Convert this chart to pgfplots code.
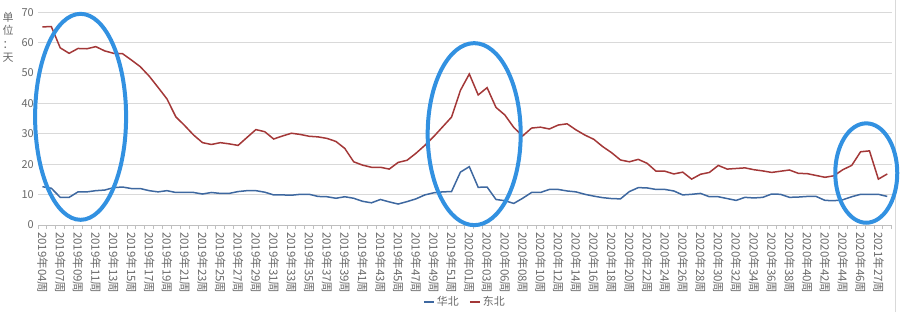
\documentclass[border=0pt]{standalone}
\usepackage{fontspec}
\setmainfont{Noto Sans CJK SC}
\usepackage{pgfplots}
\pgfplotsset{compat=1.18}
\usepackage{pgfplotstable}
\definecolor{hb}{RGB}{62,104,160}
\definecolor{db}{RGB}{163,56,56}
\definecolor{ell}{RGB}{50,145,225}
\definecolor{tk}{RGB}{105,105,105}
\definecolor{grd}{RGB}{217,217,217}
\definecolor{axl}{RGB}{191,191,191}

\pgfplotstableread{
x hb db
0 12.6 65.2
1 12.1 65.3
2 9.1 58.3
3 9.1 56.5
4 10.9 58.1
5 10.9 58.0
6 11.3 58.7
7 11.5 57.3
8 12.3 56.5
9 12.5 56.4
10 12.0 54.3
11 12.0 52.1
12 11.3 49.0
13 10.9 45.3
14 11.3 41.5
15 10.7 35.6
16 10.7 32.7
17 10.7 29.6
18 10.2 27.1
19 10.7 26.5
20 10.4 27.1
21 10.4 26.7
22 11.0 26.2
23 11.3 28.8
24 11.3 31.4
25 10.8 30.7
26 9.9 28.3
27 9.9 29.3
28 9.8 30.2
29 10.1 29.8
30 10.1 29.2
31 9.4 29.0
32 9.3 28.5
33 8.8 27.5
34 9.3 25.2
35 8.8 20.8
36 7.8 19.7
37 7.3 19.0
38 8.4 19.0
39 7.6 18.4
40 6.9 20.6
41 7.7 21.3
42 8.6 23.6
43 9.9 26.2
44 10.6 29.1
45 10.9 32.3
46 11.0 35.5
47 17.4 44.3
48 19.2 49.7
49 12.4 42.8
50 12.5 45.2
51 8.4 38.7
52 8.0 36.2
53 7.1 32.1
54 8.8 29.3
55 10.7 31.9
56 10.7 32.2
57 11.7 31.6
58 11.7 32.9
59 11.2 33.3
60 10.9 31.3
61 10.1 29.6
62 9.5 28.2
63 9.0 25.8
64 8.7 23.8
65 8.6 21.4
66 11.0 20.8
67 12.3 21.6
68 12.2 20.3
69 11.7 17.7
70 11.7 17.7
71 11.2 16.8
72 9.9 17.4
73 10.1 15.1
74 10.4 16.7
75 9.3 17.3
76 9.3 19.6
77 8.7 18.4
78 8.1 18.6
79 9.1 18.8
80 8.9 18.2
81 9.1 17.8
82 10.2 17.3
83 10.1 17.7
84 9.1 18.1
85 9.2 17.0
86 9.4 16.9
87 9.4 16.3
88 8.1 15.7
89 8.0 16.2
90 8.3 18.2
91 9.3 19.6
92 10.1 24.1
93 10.1 24.4
94 10.1 15.1
95 9.4 16.8
}\data

\begin{document}
\begin{tikzpicture}[x=1bp,y=1bp]
\useasboundingbox (0,0) rectangle (900,312);
\draw[grd] (895,0) -- (895,312);
\node[anchor=north, align=center, font=\fontsize{11}{13.5}\selectfont, text=tk, inner sep=0pt] at (8,300) {单\\位\\：\\天};
\begin{axis}[
  at={(38bp,87bp)}, anchor=south west,
  scale only axis, width=853.7bp, height=212.7bp,
  xmin=-0.5, xmax=95.5, ymin=0, ymax=70,
  ytick={0,10,...,70},
  ymajorgrids, grid style={grd, line width=1bp},
  axis x line*=bottom, axis y line*=left,
  x axis line style={axl, line width=1bp, -},
  y axis line style={draw=none},
  xtick={0,2,...,94},
  xticklabels={2019年04周,2019年07周,2019年09周,2019年11周,2019年13周,2019年15周,2019年17周,2019年19周,2019年21周,2019年23周,2019年25周,2019年27周,2019年29周,2019年31周,2019年33周,2019年35周,2019年37周,2019年39周,2019年41周,2019年43周,2019年45周,2019年47周,2019年49周,2019年51周,2020年01周,2020年03周,2020年06周,2020年08周,2020年10周,2020年12周,2020年14周,2020年16周,2020年18周,2020年20周,2020年22周,2020年24周,2020年26周,2020年28周,2020年30周,2020年32周,2020年34周,2020年36周,2020年38周,2020年40周,2020年42周,2020年44周,2020年46周,2021年27周},
  minor xtick={-0.5,0.5,...,95.5},
  major tick length=0pt, minor tick length=4bp, tick align=outside,
  minor tick style={axl, line width=0.8bp},
  tick label style={font=\fontsize{11}{12}\selectfont, text=tk},
  xticklabel style={rotate=-90, anchor=west, inner sep=0pt, font=\fontsize{11.5}{12}\selectfont},
  xticklabel shift=7bp,
  yticklabel style={inner sep=0pt},
  yticklabel shift=4bp,
  /pgf/number format/assume math mode=true,
  clip=false,
  legend style={at={(axis description cs:0.5,-0.362)}, anchor=center, draw=none, fill=none,
    font=\fontsize{11}{12}\selectfont, text=tk,
    /tikz/every even column/.append style={column sep=8bp}},
  legend columns=2,
  legend image code/.code={\draw[#1, line width=2bp] (0bp,0bp) -- (10bp,0bp);},
]
\addplot[hb, line width=1.5bp, mark=none] table[x=x, y=hb]{\data};
\addlegendentry{华北}
\addplot[db, line width=1.5bp, mark=none] table[x=x, y=db]{\data};
\addlegendentry{东北}
\draw[ell, line width=4bp] (axis cs:4.29,35.6) ellipse [x radius=45.5bp, y radius=103bp];
\draw[ell, line width=4bp] (axis cs:48.55,29.9) ellipse [x radius=46.5bp, y radius=91bp];
\draw[ell, line width=4bp] (axis cs:92.64,17.1) ellipse [x radius=31bp, y radius=49.7bp];
\end{axis}
\end{tikzpicture}
\end{document}
